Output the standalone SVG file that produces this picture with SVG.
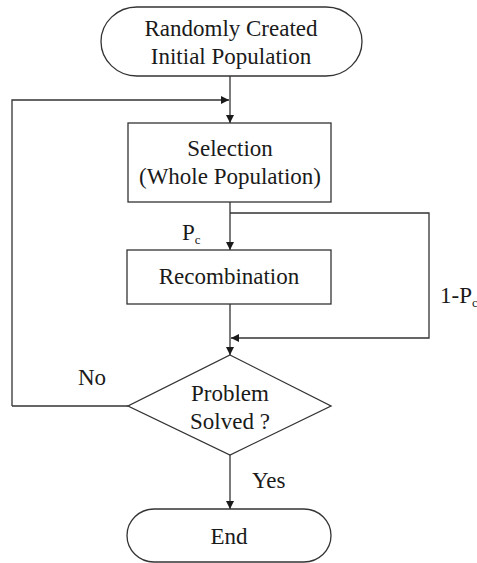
<svg xmlns="http://www.w3.org/2000/svg" width="477" height="563" viewBox="0 0 477 563" font-family="Liberation Serif, Times New Roman, serif">
<style>
.s{fill:#fff;stroke:#333;stroke-width:1.3}
.c{fill:none;stroke:#333;stroke-width:1.3}
text{font-size:23px;fill:#1a1a1a}
.m{text-anchor:middle}
.sub{font-size:13px}
</style>
<defs>
<marker id="a" viewBox="0 0 10 10" refX="10" refY="5" markerWidth="8" markerHeight="8" markerUnits="userSpaceOnUse" orient="auto">
<path d="M0,0L10,5L0,10z" fill="#1a1a1a"/>
</marker>
</defs>
<g id="connectors">
<path class="c" d="M230,76V123" marker-end="url(#a)"/>
<path class="c" d="M12,406V100H229" marker-end="url(#a)"/>
<path class="c" d="M128,406H12"/>
<path class="c" d="M230,202V250" marker-end="url(#a)"/>
<path class="c" d="M230,213H429V338H231" marker-end="url(#a)"/>
<path class="c" d="M230,304V355" marker-end="url(#a)"/>
<path class="c" d="M230,455V509" marker-end="url(#a)"/>
</g>
<g id="start">
<rect class="s" x="101" y="7" width="261" height="69" rx="36" ry="34.5"/>
<text class="m" x="231" y="36">Randomly Created</text>
<text class="m" x="231" y="64">Initial Population</text>
</g>
<g id="selection">
<rect class="s" x="128" y="123" width="203" height="79"/>
<text class="m" x="230" y="156">Selection</text>
<text class="m" x="230" y="184">(Whole Population)</text>
</g>
<g id="recombination">
<rect class="s" x="127" y="250" width="204" height="54"/>
<text class="m" x="229" y="284">Recombination</text>
</g>
<g id="decision">
<polygon class="s" points="230,355 331,406 230,455 128,406"/>
<text class="m" x="230" y="401">Problem</text>
<text class="m" x="230" y="429">Solved ?</text>
</g>
<g id="end">
<rect class="s" x="127" y="509" width="204" height="53" rx="27" ry="26.5"/>
<text class="m" x="229" y="544">End</text>
</g>
<g id="labels">
<text x="182" y="240">P<tspan class="sub" dy="4">c</tspan></text>
<text x="440" y="303">1-P<tspan class="sub" dy="4">c</tspan></text>
<text x="78" y="385">No</text>
<text x="252" y="488">Yes</text>
</g>
</svg>
